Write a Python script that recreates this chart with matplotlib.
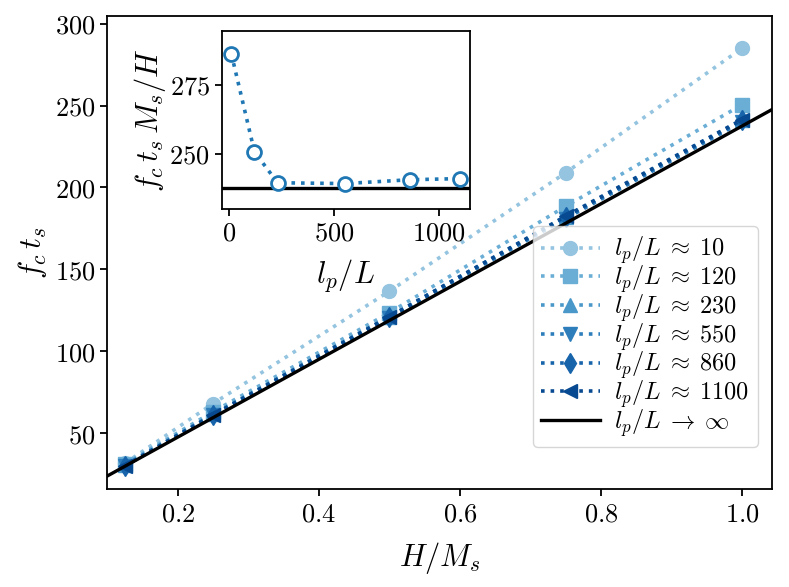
import numpy as np
import matplotlib
matplotlib.use("Agg")
import matplotlib.pyplot as plt
from matplotlib.ticker import FuncFormatter

plt.rcParams['mathtext.fontset'] = 'cm'
plt.rcParams['font.family'] = ['DejaVu Serif']

# data
h_ms = [0.125, 0.25, 0.5, 0.75, 1.0]
lp_labels = ['10', '120', '230', '550', '860', '1100']
fc_lp10 = [31.5, 68.0, 136.6, 209.0, 285.0]
fc_lp120 = [31.0, 63.0, 123.5, 188.5, 250.5]
fc_lp230 = [30.5, 61.5, 121.0, 182.0, 241.0]
fc_lp550 = [30.0, 61.0, 120.5, 181.0, 240.0]
fc_lp860 = [30.0, 61.0, 121.0, 182.0, 241.0]
fc_lp1100 = [30.0, 61.0, 121.0, 182.5, 241.5]
series = [fc_lp10, fc_lp120, fc_lp230, fc_lp550, fc_lp860, fc_lp1100]
markers = ['o', 's', '^', 'v', 'd', '<']
limit_slope = 237.5

inset_lp = [10, 120, 230, 550, 860, 1100]
inset_val = [286.2, 250.7, 239.5, 239.2, 240.6, 241.0]

fig = plt.figure(figsize=(7.89, 5.87), dpi=100)
ax = fig.add_axes([0.136, 0.1664, 0.842, 0.806])

colors = plt.cm.Blues(np.linspace(0.4, 0.9, 6))
for vals, lab, mk, c in zip(series, lp_labels, markers, colors):
    ax.plot(h_ms, vals, linestyle=':', lw=2.6, marker=mk, ms=10, color=c,
            label=r'$l_p/L\;\approx\;%s$' % lab)

xl = np.array([0.1, 1.042])
ax.plot(xl, limit_slope * xl, color='black', lw=2.4,
        label=r'$l_p/L\;\to\;\infty$')
ax.set_xlim(0.1, 1.042)
ax.set_ylim(15.6, 304.6)
ax.set_xticks([0.2, 0.4, 0.6, 0.8, 1.0])
ax.set_yticks([50, 100, 150, 200, 250, 300])
ax.xaxis.set_major_formatter(FuncFormatter(lambda v, p: r'$%.1f$' % v))
ax.yaxis.set_major_formatter(FuncFormatter(lambda v, p: r'$%d$' % v))
ax.tick_params(labelsize=19, width=1.3, length=5)
for s in ax.spines.values():
    s.set_linewidth(1.3)
ax.set_xlabel(r'$H/M_s$', fontsize=22, labelpad=10)
ax.set_ylabel(r'$f_c\,t_s$', fontsize=22)
ax.legend(loc='lower right', bbox_to_anchor=(0.979, 0.089), borderaxespad=0,
          fontsize=17.5, handlelength=2.4, borderpad=0.35,
          labelspacing=-0.12, handletextpad=0.6)

ins = fig.add_axes([0.281, 0.644, 0.3147, 0.3037])
ins.plot(inset_lp, inset_val, linestyle=':', lw=2.6, marker='o', ms=10,
         mfc='white', mec='#1f77b4', mew=2, color='#1f77b4', zorder=3)
ins.axhline(limit_slope, color='black', lw=2.4)
ins.set_xlim(-36, 1146)
ins.set_ylim(230, 294.6)
ins.set_xticks([0, 500, 1000])
ins.set_yticks([250, 275])
ins.xaxis.set_major_formatter(FuncFormatter(lambda v, p: r'$%d$' % v))
ins.yaxis.set_major_formatter(FuncFormatter(lambda v, p: r'$%d$' % v))
ins.tick_params(labelsize=19, width=1.3, length=5)
for s in ins.spines.values():
    s.set_linewidth(1.3)
ins.set_xlabel(r'$l_p/L$', fontsize=22, labelpad=8)
ins.set_ylabel(r'$f_c\,t_s\,M_s/H$', fontsize=22, labelpad=1)

fig.savefig('out.png', dpi=100)
